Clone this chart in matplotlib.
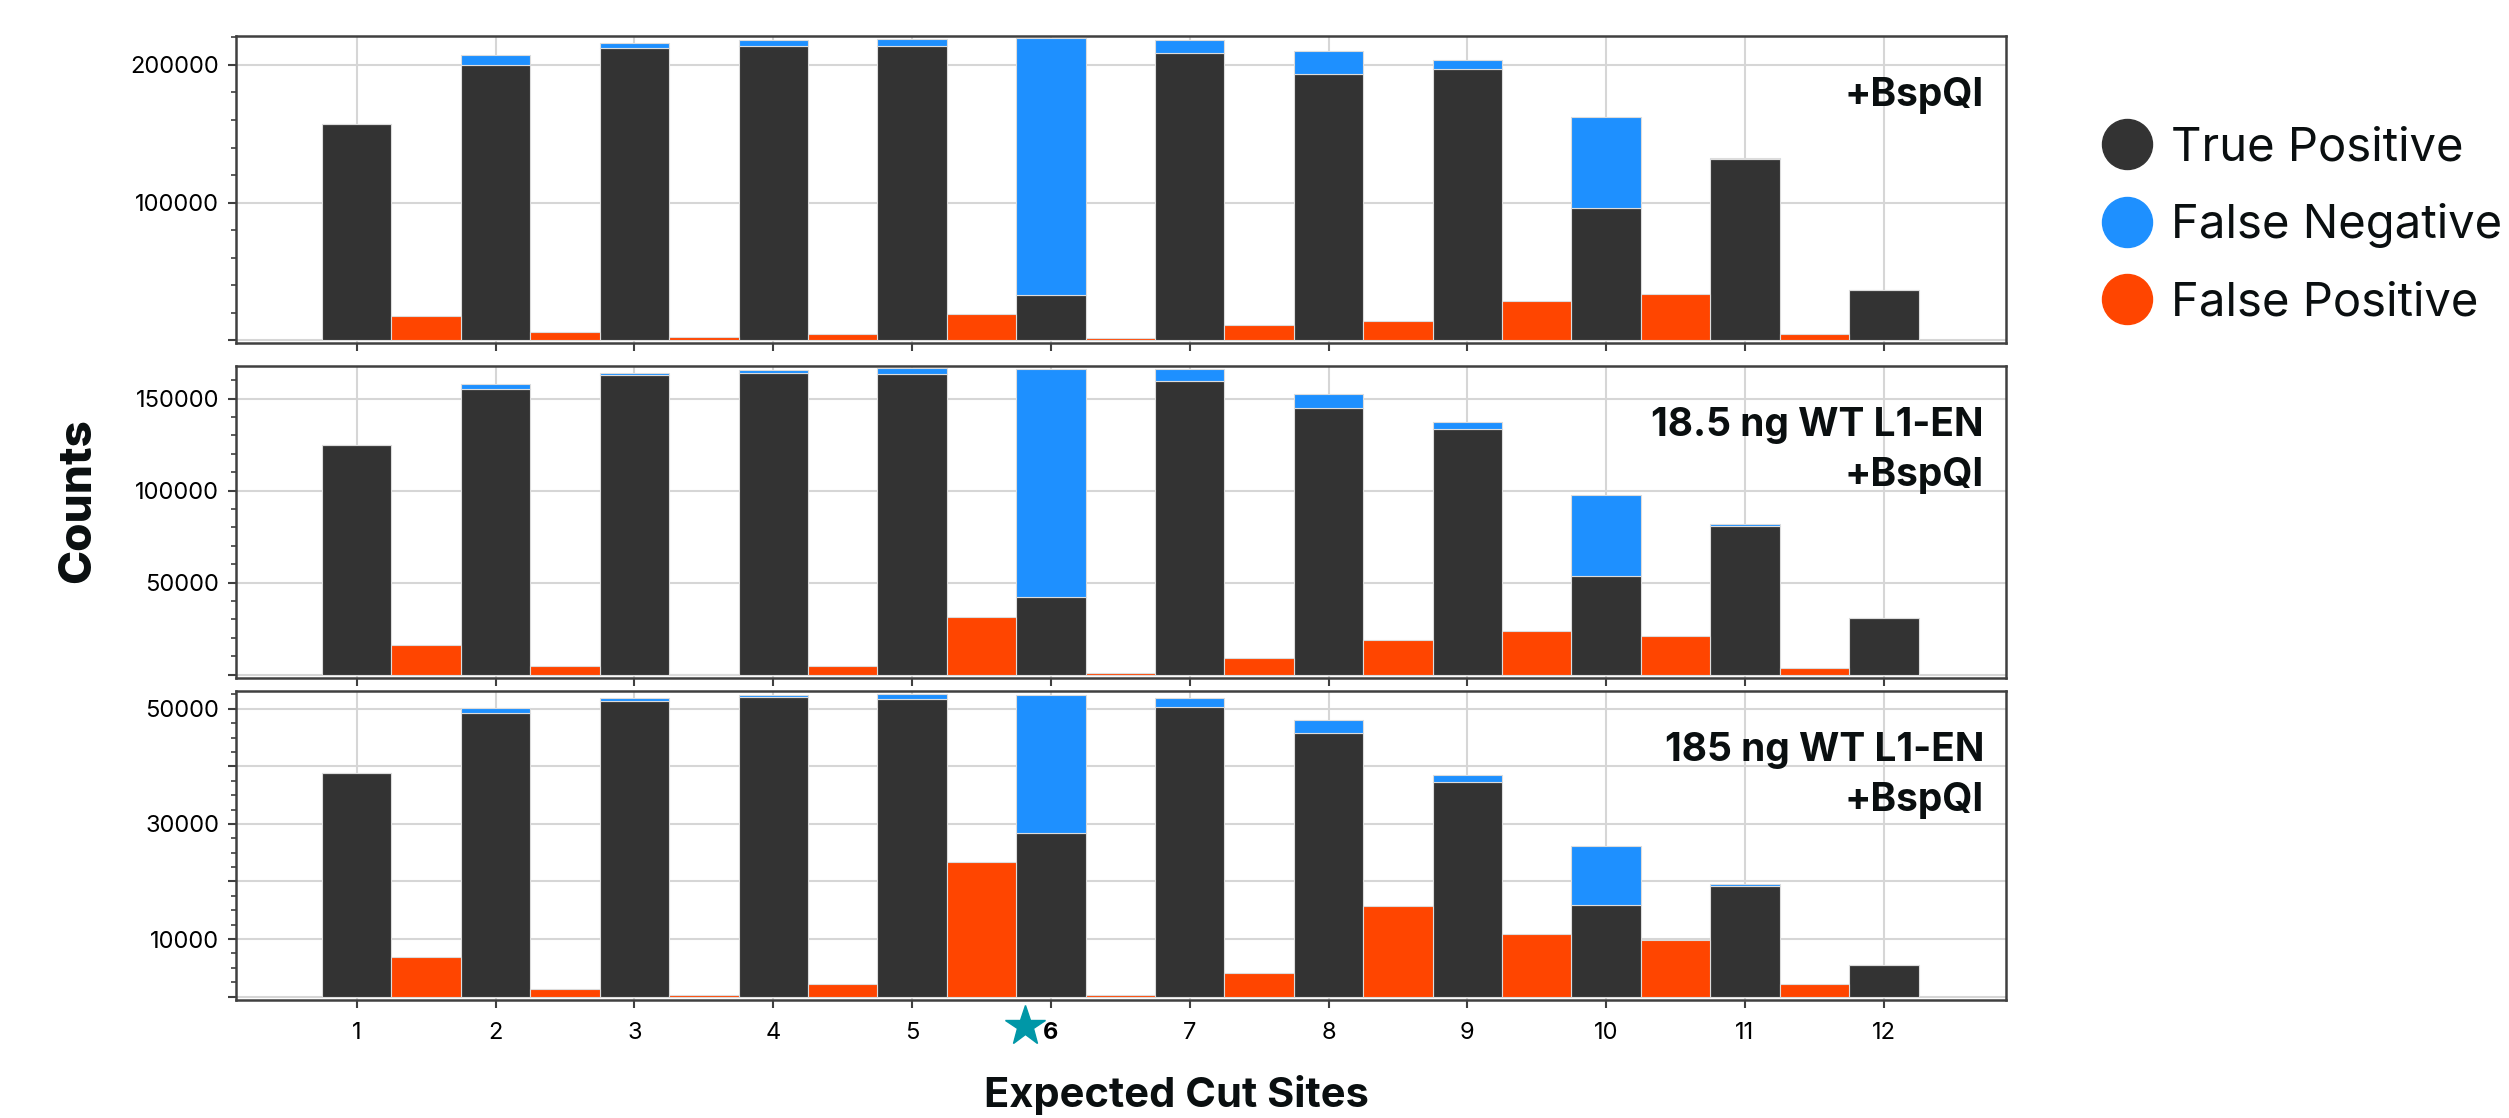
import numpy as np
import matplotlib
matplotlib.use('Agg')
import matplotlib.pyplot as plt
from matplotlib.lines import Line2D
from matplotlib.ticker import MultipleLocator
from matplotlib.transforms import blended_transform_factory

plt.rcParams['font.family'] = ['Inter', 'DejaVu Sans']
plt.rcParams['text.color'] = '#0a0f10'

# expected cut sites 1..12
sites = np.arange(1, 13)
site_labels = [str(s) for s in sites]
star_site = 6

# +BspQI only
tp_top = [157000, 200000, 212000, 214000, 214000, 33200, 208500, 193500, 197300, 96400, 131500, 36300]
fn_top = [0, 7000, 4000, 4000, 5000, 186000, 9500, 16500, 6100, 65800, 1200, 0]
fp_top = [17400, 6300, 2200, 4600, 19400, 1500, 11400, 14300, 28300, 33400, 4600]

# 18.5 ng WT L1-EN +BspQI
tp_mid = [125000, 155300, 162700, 163800, 163400, 42000, 159400, 144700, 133700, 53800, 80800, 31000]
fn_mid = [0, 2500, 1400, 1800, 3300, 124100, 6400, 8000, 3400, 43800, 900, 0]
fp_mid = [16100, 4500, 500, 4500, 31500, 700, 8900, 19000, 23500, 20800, 3800]

# 185 ng WT L1-EN +BspQI
tp_bot = [38900, 49300, 51300, 52000, 51700, 28500, 50300, 45800, 37200, 15900, 19200, 5500]
fn_bot = [0, 900, 600, 400, 900, 23900, 1600, 2200, 1300, 10300, 350, 0]
fp_bot = [6900, 1250, 260, 2100, 23300, 260, 4100, 15700, 10800, 9900, 2200]

panel_titles = [['+BspQI'], ['18.5 ng WT L1-EN', '+BspQI'], ['185 ng WT L1-EN', '+BspQI']]
legend_labels = ['True Positive', 'False Negative', 'False Positive']

TP_C = '#333333'
FN_C = '#1e90ff'
FP_C = '#ff4500'
STAR_C = '#0097a7'

W, H = 2509, 1118
fig = plt.figure(figsize=(W / 100, H / 100), dpi=100)

left = 236 / W
width = (2006 - 236) / W
boxes = [(36, 343), (366, 678), (691, 1000)]

panels = [
    (tp_top, fn_top, fp_top, (-1900, 221000), 100000, 20000, [100000, 200000]),
    (tp_mid, fn_mid, fp_mid, (-1800, 167700), 50000, 10000, [50000, 100000, 150000]),
    (tp_bot, fn_bot, fp_bot, (-600, 53100), 10000, 2500, [10000, 30000, 50000]),
]

axes = []
for i, (tp, fn, fp, ylim, major, minor, shown) in enumerate(panels):
    y0, y1 = boxes[i]
    ax = fig.add_axes([left, 1 - y1 / H, width, (y1 - y0) / H])
    axes.append(ax)
    kw = dict(width=0.5, edgecolor='#dcdcdc', linewidth=0.8, zorder=3)
    ax.bar(sites, tp, color=TP_C, **kw)
    ax.bar(sites, fn, bottom=tp, color=FN_C, **kw)
    ax.bar(sites[:len(fp)] + 0.5, fp, color=FP_C, **kw)

    ax.set_xlim(0.13, 12.88)
    ax.set_ylim(*ylim)
    ax.set_xticks(sites)
    yt = np.arange(0, ylim[1], major)
    ax.set_yticks(yt)
    ax.set_yticklabels([f'{int(v)}' if v in shown else '' for v in yt])
    ax.yaxis.set_minor_locator(MultipleLocator(minor))
    ax.set_axisbelow(True)
    ax.grid(True, which='major', color='#d6d6d6', linewidth=1.5, zorder=0)
    for sp in ax.spines.values():
        sp.set_linewidth(1.8)
        sp.set_color('#404040')
    ax.tick_params(which='major', length=6, width=1.5, color='#404040',
                   labelsize=17, pad=6)
    ax.tick_params(which='minor', length=3.5, width=1.2, color='#404040')
    ax.tick_params(axis='x', pad=10)
    if i < 2:
        ax.tick_params(axis='x', labelbottom=False)
    else:
        ax.set_xticklabels(site_labels)
        ax.get_xticklabels()[star_site - 1].set_fontweight('bold')

    for j, line in enumerate(panel_titles[i]):
        ax.annotate(line, xy=(1, 1), xycoords='axes fraction',
                    xytext=(-22, -70 - 50 * j), textcoords='offset pixels',
                    ha='right', va='baseline', fontsize=28, fontweight='bold',
                    zorder=6)

# star next to the site 6 label
ax = axes[-1]
trans = blended_transform_factory(ax.transData, ax.transAxes)
ax.plot([star_site - 0.19], [-0.084], marker='*', markersize=30, color=STAR_C,
        transform=trans, clip_on=False, zorder=7)

fig.text(78 / W, 1 - 501 / H, 'Counts', rotation=90, ha='center', va='center',
         fontsize=33, fontweight='heavy')
fig.text(1176 / W, (H - 1107) / H, 'Expected Cut Sites', ha='center', va='baseline',
         fontsize=30, fontweight='bold')

handles = [Line2D([], [], ls='', marker='o', markersize=36, color=c)
           for c in (TP_C, FN_C, FP_C)]
fig.legend(handles, legend_labels, loc='center left',
           bbox_to_anchor=(2103 / W, 1 - 226 / H), frameon=False, fontsize=34,
           handlelength=1.0, handletextpad=0.45, labelspacing=0.7,
           borderpad=0, borderaxespad=0)

fig.savefig('out.png', dpi=100)
